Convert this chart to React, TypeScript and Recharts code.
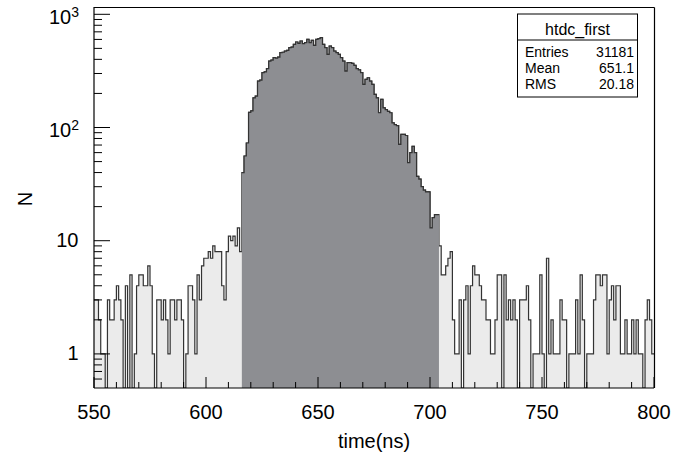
import React from 'react';
import { ComposedChart, Area, XAxis, YAxis } from 'recharts';

// htdc_first: counts per 1 ns bin
// bins 550..615 (light tail before the peak)
const tailLeft = [
  3, 3, 2, 1, 1, 0, 3, 2, 2, 3,
  4, 3, 2, 0, 4, 0, 5, 0, 1, 4,
  5, 5, 4, 4, 6, 4, 1, 0, 3, 3,
  2, 3, 2, 1, 3, 3, 2, 3, 3, 2,
  0, 1, 4, 4, 3, 1, 5, 3, 6, 7,
  7, 8, 7, 9, 8, 8, 8, 4, 3, 8,
  11, 10, 11, 9, 13, 8,
];

// bins 616..703 (dark peak region)
const peak = [
  40, 56, 73, 136, 140, 183, 189, 257, 262, 305,
  310, 331, 386, 394, 414, 410, 418, 458, 462, 473,
  480, 507, 512, 543, 569, 554, 581, 550, 561, 601,
  561, 589, 532, 601, 609, 622, 543, 507, 443, 524,
  507, 473, 458, 443, 414, 386, 315, 374, 374, 368,
  354, 331, 323, 305, 240, 266, 275, 257, 240, 196,
  183, 135, 177, 149, 144, 139, 135, 110, 106, 104,
  71, 87, 87, 85, 49, 60, 68, 60, 37, 35,
  30, 28, 27, 27, 13, 16, 17, 17,
];

// bins 704..799 (light tail after the peak)
const tailRight = [
  9, 5, 5, 6, 7, 8, 2, 1, 1, 3,
  0, 3, 4, 1, 4, 6, 5, 5, 4, 3,
  3, 2, 2, 1, 1, 2, 5, 5, 0, 5,
  2, 3, 2, 3, 2, 0, 3, 3, 3, 4,
  2, 0, 1, 1, 1, 5, 1, 0, 7, 1,
  2, 1, 1, 1, 3, 2, 2, 0, 1, 1,
  1, 3, 1, 5, 2, 0, 1, 1, 1, 3,
  5, 5, 4, 5, 5, 1, 3, 4, 2, 4,
  4, 1, 1, 2, 1, 1, 2, 1, 2, 1,
  1, 0, 2, 3, 2, 1,
];

const xStart = 550;
const xEnd = 800;
const peakStart = 616;
const peakEnd = 704;
const yMin = 0.5;
const yMax = 1160;

const xTicks = [550, 560, 570, 580, 590, 600, 610, 620, 630, 640, 650, 660, 670, 680, 690, 700, 710, 720, 730, 740, 750, 760, 770, 780, 790, 800];
const xLabels = [550, 600, 650, 700, 750, 800];
const yTicks = [
  0.6, 0.7, 0.8, 0.9,
  1, 2, 3, 4, 5, 6, 7, 8, 9,
  10, 20, 30, 40, 50, 60, 70, 80, 90,
  100, 200, 300, 400, 500, 600, 700, 800, 900,
  1000,
];

const statsTitle = 'htdc_first';
const statsRows = [
  ['Entries', '31181'],
  ['Mean', '651.1'],
  ['RMS', '20.18'],
];

const counts = [...tailLeft, ...peak, ...tailRight];

// zero bins sit on the floor of the log axis
const shown = (c: number) => (c > 0 ? c : yMin);

const data = [];
for (let t = xStart; t <= xEnd; t++) {
  const i = Math.min(t - xStart, counts.length - 1);
  let dark: number | null = null;
  if (t >= peakStart && t < peakEnd) dark = shown(counts[i]);
  if (t === peakEnd) dark = shown(counts[peakEnd - 1 - xStart]);
  data.push({ t, all: shown(counts[i]), dark });
}

const FONT = '"Liberation Sans", Arial, Helvetica, sans-serif';

const XTick = (props: any) => {
  const { x, y, payload } = props;
  const major = xLabels.includes(payload.value);
  return (
    <g>
      <line x1={x} y1={y} x2={x} y2={y - (major ? 11 : 6)} stroke="#000" strokeWidth={1} />
      {major && (
        <text x={x} y={y + 31} textAnchor="middle" fontSize={20} fontFamily={FONT} fill="#000">
          {payload.value}
        </text>
      )}
    </g>
  );
};

const YTick = (props: any) => {
  const { x, y, payload } = props;
  const lg = Math.log10(payload.value);
  const exp = Math.round(lg);
  const major = Math.abs(lg - exp) < 1e-6;
  let label = null;
  if (major) {
    if (exp <= 1) {
      label = (
        <text x={78.5} y={y + 6.5} textAnchor="end" fontSize={20} fontFamily={FONT} fill="#000">
          {exp === 0 ? '1' : '10'}
        </text>
      );
    } else {
      label = (
        <text x={79} y={y + 9.5} textAnchor="end" fontSize={20} fontFamily={FONT} fill="#000">
          10
          <tspan dy={-7} fontSize={14}>{exp}</tspan>
        </text>
      );
    }
  }
  return (
    <g>
      <line x1={x} y1={y} x2={x + (major ? 16 : 8)} y2={y} stroke="#000" strokeWidth={1} />
      {label}
    </g>
  );
};

const App = () => {
  return (
    <div style={{ position: 'fixed', left: 0, top: 0, width: 689, height: 460, background: '#fff' }}>
      <ComposedChart
        width={689}
        height={460}
        data={data}
        margin={{ top: 7, right: 35, bottom: 0, left: 0 }}
      >
        <XAxis
          dataKey="t"
          type="number"
          domain={[xStart, xEnd]}
          allowDataOverflow
          ticks={xTicks}
          interval={0}
          tick={<XTick />}
          tickLine={false}
          tickSize={0}
          tickMargin={0}
          axisLine={{ stroke: '#000', strokeWidth: 1.2 }}
          height={72}
        />
        <YAxis
          type="number"
          scale="log"
          domain={[yMin, yMax]}
          allowDataOverflow
          ticks={yTicks}
          interval={0}
          tick={<YTick />}
          tickLine={false}
          tickSize={0}
          tickMargin={0}
          axisLine={{ stroke: '#000', strokeWidth: 1.2 }}
          width={94}
        />
        <Area
          dataKey="all"
          type="stepAfter"
          fill="#ebebeb"
          fillOpacity={1}
          stroke="#333"
          strokeWidth={1.2}
          dot={false}
          activeDot={false}
          isAnimationActive={false}
        />
        <Area
          dataKey="dark"
          type="stepAfter"
          fill="#8d8e92"
          fillOpacity={1}
          stroke="#333"
          strokeWidth={1.2}
          dot={false}
          activeDot={false}
          isAnimationActive={false}
        />
      </ComposedChart>

      <svg
        width={689}
        height={460}
        style={{ position: 'absolute', left: 0, top: 0, pointerEvents: 'none' }}
        fontFamily={FONT}
      >
        {/* frame top and right */}
        <line x1={94} y1={7.5} x2={654.5} y2={7.5} stroke="#000" strokeWidth={1.2} />
        <line x1={654.5} y1={7.5} x2={654.5} y2={388} stroke="#000" strokeWidth={1.2} />

        {/* axis titles */}
        <text x={374} y={448} textAnchor="middle" fontSize={20} fill="#000">time(ns)</text>
        <text
          x={24.5}
          y={199}
          textAnchor="middle"
          dominantBaseline="central"
          fontSize={20}
          fill="#000"
          transform="rotate(-90 24.5 199)"
        >
          N
        </text>

        {/* stats box */}
        <rect x={517.5} y={14} width={120} height={83} fill="#fff" stroke="#000" strokeWidth={1} />
        <line x1={517.5} y1={40} x2={637.5} y2={40} stroke="#000" strokeWidth={1} />
        <text x={577.5} y={34.5} textAnchor="middle" fontSize={16} fill="#000">{statsTitle}</text>
        {statsRows.map((r, k) => (
          <g key={r[0]}>
            <text x={525} y={57 + k * 16} fontSize={14} fill="#000">{r[0]}</text>
            <text x={634} y={57 + k * 16} textAnchor="end" fontSize={14} fill="#000">{r[1]}</text>
          </g>
        ))}
      </svg>
    </div>
  );
};

export default App;
